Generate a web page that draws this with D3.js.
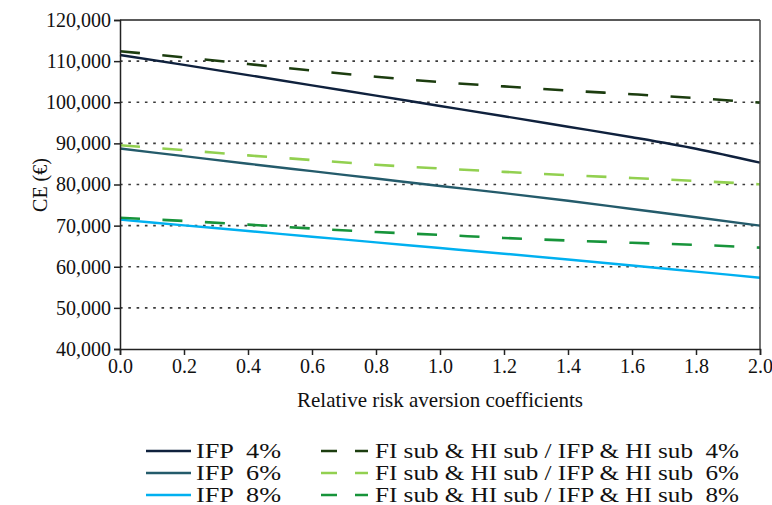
<!DOCTYPE html>
<html>
<head>
<meta charset="utf-8">
<script src="https://cdn.jsdelivr.net/npm/d3@7/dist/d3.min.js"></script>
<style>
  html, body { margin: 0; padding: 0; background: #fff; }
  svg { display: block; font-family: "Liberation Serif", "Times New Roman", serif; }
</style>
</head>
<body>
<svg id="chart" width="772" height="505"></svg>
<script>
// ---- data ----
const rra = [0.0, 0.2, 0.4, 0.6, 0.8, 1.0, 1.2, 1.4, 1.6, 1.8, 2.0];
const ifp4 = [111500, 109100, 106600, 104100, 101600, 99100, 96600, 94050, 91500, 88700, 85300];
const ifp6 = [88750, 86900, 85050, 83250, 81450, 79650, 77900, 76050, 74050, 72050, 70000];
const ifp8 = [71450, 70070, 68690, 67310, 65930, 64550, 63170, 61760, 60300, 58820, 57340];
const fi4 = [112400, 110900, 109300, 107700, 106200, 104900, 103850, 102850, 101950, 101000, 99900];
const fi6 = [89550, 88350, 87080, 85950, 84800, 83900, 83080, 82270, 81580, 80850, 80050];
const fi8 = [71900, 71140, 70240, 69290, 68450, 67750, 67000, 66380, 65830, 65330, 64650];
const seriesNames = ["IFP  4%", "IFP  6%", "IFP  8%",
  "FI sub & HI sub / IFP & HI sub  4%", "FI sub & HI sub / IFP & HI sub  6%", "FI sub & HI sub / IFP & HI sub  8%"];
const seriesColors = ["#0f213d", "#245b6b", "#00b0f0", "#1c3d0f", "#92d050", "#17943a"];
const xTicks = [0.0, 0.2, 0.4, 0.6, 0.8, 1.0, 1.2, 1.4, 1.6, 1.8, 2.0];
const yTicks = [40000, 50000, 60000, 70000, 80000, 90000, 100000, 110000, 120000];
const xTitle = "Relative risk aversion coefficients";
const yTitle = "CE (€)";

const seriesValues = [ifp4, ifp6, ifp8, fi4, fi6, fi8];
const dashed = [false, false, false, true, true, true];

// ---- layout ----
const svg = d3.select("#chart");
const L = 120, R = 760, T = 20, B = 349;
const x = d3.scaleLinear().domain([0, 2]).range([L, R]);
const y = d3.scaleLinear().domain([40000, 120000]).range([B, T]);

// gridlines
svg.append("g").selectAll("line")
  .data(yTicks.filter(v => v > 40000 && v < 120000))
  .join("line")
  .attr("x1", L).attr("x2", R)
  .attr("y1", d => y(d)).attr("y2", d => y(d))
  .attr("stroke", "#3a3a3a").attr("stroke-width", 1.6)
  .attr("stroke-dasharray", "2.6,5.7");

// series lines
const line = d3.line().x((d, i) => x(rra[i])).y(d => y(d)).curve(d3.curveMonotoneX);
seriesValues.forEach((vals, k) => {
  svg.append("path")
    .datum(vals)
    .attr("d", line)
    .attr("fill", "none")
    .attr("stroke", seriesColors[k])
    .attr("stroke-width", dashed[k] ? 2.6 : 2.4)
    .attr("stroke-dasharray", dashed[k] ? "20,22.5" : null);
});

// frame (top and right)
svg.append("line").attr("x1", L).attr("x2", R).attr("y1", T).attr("y2", T)
  .attr("stroke", "#222").attr("stroke-width", 1.5);
svg.append("line").attr("x1", R).attr("x2", R).attr("y1", T).attr("y2", B)
  .attr("stroke", "#444").attr("stroke-width", 1.5);

// axes
const fmt = d3.format(",");
const yAxis = svg.append("g").attr("transform", `translate(${L},0)`)
  .call(d3.axisLeft(y).tickValues(yTicks).tickFormat(fmt).tickSize(6).tickPadding(3));
const xAxis = svg.append("g").attr("transform", `translate(0,${B})`)
  .call(d3.axisBottom(x).tickValues(xTicks).tickFormat(d3.format(".1f")).tickSize(6).tickPadding(4));
[yAxis, xAxis].forEach(g => {
  g.select(".domain").attr("stroke", "#222").attr("stroke-width", 1.5);
  g.selectAll(".tick line").attr("stroke", "#222").attr("stroke-width", 1.5);
  g.selectAll(".tick text").attr("fill", "#111")
    .style("font-family", '"Liberation Serif", "Times New Roman", serif')
    .style("font-size", "20px");
});

// titles
svg.append("text").attr("x", 440).attr("y", 407).attr("text-anchor", "middle")
  .attr("font-size", 21).attr("fill", "#111").text(xTitle);
svg.append("text").attr("transform", "translate(47,185) rotate(-90)").attr("text-anchor", "middle")
  .attr("font-size", 20).attr("fill", "#111").text(yTitle);

// legend
const rowsY = [451, 473, 495];
seriesNames.forEach((name, k) => {
  const col = k < 3 ? 0 : 1;
  const ry = rowsY[k % 3];
  const g = svg.append("g");
  if (col === 0) {
    g.append("line").attr("x1", 146).attr("x2", 191).attr("y1", ry).attr("y2", ry)
      .attr("stroke", seriesColors[k]).attr("stroke-width", 2.6);
  } else {
    g.append("line").attr("x1", 321).attr("x2", 368).attr("y1", ry).attr("y2", ry)
      .attr("stroke", seriesColors[k]).attr("stroke-width", 2.6)
      .attr("stroke-dasharray", "16,18");
  }
  g.append("text").attr("x", col === 0 ? 196 : 375).attr("y", ry + 6.5).attr("font-size", 20.5)
    .attr("fill", "#111").attr("xml:space", "preserve").style("white-space", "pre")
    .attr("textLength", col === 0 ? 85 : 364).attr("lengthAdjust", "spacingAndGlyphs")
    .text(name);
});
</script>
</body>
</html>
